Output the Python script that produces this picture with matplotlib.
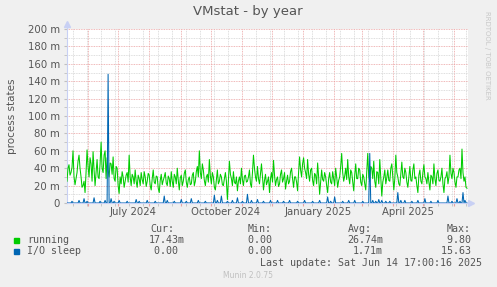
import matplotlib
matplotlib.use("Agg")
import matplotlib.pyplot as plt
import matplotlib.dates as mdates
import matplotlib.transforms as mtransforms
import numpy as np
import pandas as pd
from datetime import datetime, timedelta

# --- data (values in milli-processes) ---
start = datetime(2024, 5, 10, 17, 0)
end = datetime(2025, 6, 14, 17, 0)

# running, one value per day
running = [
    25, 40, 44, 32, 35, 41, 60, 30, 21, 28, 35, 48, 55, 40, 30, 18, 20, 25, 12, 35,
    61, 42, 30, 52, 45, 25, 59, 38, 20, 35, 50, 30, 28, 45, 70, 40, 35, 55, 60, 28,
    52, 38, 30, 46, 45, 33, 53, 28, 25, 42, 40, 20, 11, 30, 22, 36, 30, 18, 25, 32,
    35, 24, 55, 30, 20, 33, 30, 22, 38, 25, 18, 32, 28, 20, 35, 27, 22, 36, 30, 19,
    25, 34, 32, 20, 15, 28, 38, 24, 22, 31, 30, 17, 12, 26, 33, 21, 26, 30, 35, 23,
    20, 31, 28, 19, 36, 25, 18, 33, 30, 22, 40, 26, 15, 29, 32, 20, 25, 34, 38, 24,
    18, 27, 30, 21, 22, 32, 35, 20, 25, 36, 42, 30, 60, 35, 28, 45, 38, 26, 20, 30,
    33, 24, 50, 31, 22, 35, 30, 18, 15, 27, 38, 22, 25, 33, 30, 21, 20, 28, 35, 25,
    4, 26, 48, 33, 28, 20, 36, 24, 22, 30, 14, 25, 30, 22, 40, 27, 20, 31, 32, 24,
    25, 30, 38, 22, 18, 35, 55, 40, 30, 25, 42, 28, 22, 34, 45, 30, 15, 26, 33, 21,
    25, 30, 12, 28, 35, 24, 49, 32, 20, 27, 30, 19, 22, 33, 38, 24, 28, 35, 16, 25,
    32, 22, 25, 36, 40, 28, 18, 30, 30, 24, 14, 35, 53, 38, 30, 45, 52, 40, 35, 28,
    50, 33, 25, 38, 40, 26, 20, 34, 32, 22, 46, 30, 10, 24, 38, 27, 25, 35, 30, 20,
    12, 28, 35, 24, 22, 36, 28, 20, 40, 30, 18, 26, 30, 42, 57, 35, 25, 31, 40, 27,
    50, 30, 22, 38, 35, 25, 14, 32, 45, 28, 28, 40, 38, 24, 20, 33, 30, 22, 15, 35,
    57, 30, 25, 42, 40, 28, 48, 25, 18, 36, 35, 22, 50, 30, 8, 24, 30, 38, 22, 29,
    38, 26, 25, 40, 45, 30, 15, 28, 55, 35, 30, 22, 20, 34, 47, 30, 28, 40, 35, 24,
    18, 30, 42, 26, 25, 38, 45, 28, 30, 20, 12, 32, 38, 25, 22, 35, 44, 30, 28, 22,
    35, 24, 15, 32, 30, 22, 45, 28, 20, 34, 38, 26, 25, 30, 40, 22, 12, 28, 30, 36,
    22, 30, 55, 34, 28, 40, 35, 24, 18, 30, 30, 38, 40, 28, 62, 35, 25, 30, 18, 17,
]

# I/O sleep: mostly zero, nonzero days listed here
io_days = [5, 12, 17, 20, 27, 33, 38, 41, 44, 47, 52, 60, 69, 72, 80, 88, 97, 100,
           107, 114, 119, 124, 131, 138, 147, 150, 154, 160, 165, 170, 175, 180,
           184, 190, 196, 203, 210, 216, 222, 230, 237, 245, 252, 260, 263, 267,
           275, 281, 287, 295, 302, 305, 308, 311, 314, 318, 322, 330, 333, 337,
           344, 350, 357, 363, 370, 380, 384, 389, 392, 395, 397]
io_vals = [2, 3, 5, 2, 6, 2, 3, 148, 5, 2, 3, 2, 4, 2, 3, 2, 8, 3,
           2, 4, 2, 5, 3, 2, 9, 3, 8, 2, 3, 6, 2, 10,
           3, 4, 2, 3, 3, 2, 3, 2, 3, 2, 3, 7, 2, 7,
           2, 3, 3, 2, 57, 3, 2, 4, 3, 2, 2, 12, 3, 3,
           2, 3, 5, 2, 3, 8, 2, 5, 2, 12, 3]

legend_rows = [
    ("running", "#00CC00", "17.43m", "0.00", "26.74m", "9.80"),
    ("I/O sleep", "#0066B3", "0.00", "0.00", "1.71m", "15.63"),
]
x_labels = [(datetime(2024, 7, 16), "July 2024"), (datetime(2024, 10, 16), "October 2024"),
            (datetime(2025, 1, 16), "January 2025"), (datetime(2025, 4, 16), "April 2025")]

run_dates = [start + timedelta(days=i) for i in range(len(running))]
io = np.zeros(400)
io[io_days] = io_vals
io_dates = [start + timedelta(days=i) for i in range(400)]

# --- figure ---
W, H = 497, 287
fig = plt.figure(figsize=(W / 100, H / 100), dpi=100, facecolor="#F0F0F0")
ax = fig.add_axes([67 / W, 84 / H, 401 / W, 174 / H], facecolor="white")

txt = "#555555"
ax.plot(run_dates, running, color="#00CC00", lw=0.75, zorder=3)
ax.plot(io_dates, io, color="#0066B3", lw=0.75, zorder=4)

ax.set_xlim(start, end)
ax.set_ylim(0, 200)

ax.xaxis.set_major_locator(mdates.MonthLocator())
ax.xaxis.set_minor_locator(matplotlib.ticker.FixedLocator(
    mdates.date2num(pd.date_range("2024-05-17", "2025-06-14", freq="14D").to_pydatetime())))
ax.xaxis.set_major_formatter(matplotlib.ticker.NullFormatter())
ax.yaxis.set_major_locator(matplotlib.ticker.MultipleLocator(20))
ax.yaxis.set_minor_locator(matplotlib.ticker.MultipleLocator(10))
ax.yaxis.set_major_formatter(matplotlib.ticker.FuncFormatter(
    lambda v, p: "0" if v == 0 else "%d m" % v))

ax.grid(which="minor", color="#d4d4d4", linestyle=(0, (1, 1)), lw=0.6, zorder=1)
ax.grid(which="major", color="#eaa0a0", linestyle=(0, (1, 1)), lw=0.6, zorder=2)

ax.tick_params(axis="y", which="both", length=2, color="#c0c0c0", labelsize=7.3,
               labelcolor=txt, pad=3)
ax.tick_params(axis="x", which="major", length=2, color="#eaa0a0", labelbottom=False)
ax.tick_params(axis="x", which="minor", length=2, color="#c0c0c0")

for s in ["top", "right"]:
    ax.spines[s].set_visible(False)
for s in ["left", "bottom"]:
    ax.spines[s].set_color("#c8d0f4")
    ax.spines[s].set_linewidth(0.8)

# axis arrows
ax.plot([0], [1.03], marker="^", color="#c8d0f4", ms=4, transform=ax.transAxes, clip_on=False)
ax.plot([0, 0], [1.0, 1.03], color="#c8d0f4", lw=0.8, transform=ax.transAxes, clip_on=False)
ax.plot([1.008], [0], marker=">", color="#c8d0f4", ms=4, transform=ax.transAxes, clip_on=False)

trans = mtransforms.blended_transform_factory(ax.transData, ax.transAxes)
for d, lab in x_labels:
    ax.text(d, -0.05, lab, transform=trans, ha="center", va="center", fontsize=7.3, color=txt)

fig.text(248 / W, 1 - 12 / H, "VMstat - by year", ha="center", va="center", fontsize=9.5, color=txt)
fig.text(12 / W, 1 - 116 / H, "process states", rotation=90, ha="center", va="center",
         fontsize=7.5, color=txt)
fig.text(487 / W, 1 - 55 / H, "RRDTOOL / TOBI OETIKER", rotation=270, ha="center",
         va="center", fontsize=5, color="#c8c8c8")

mono = "DejaVu Sans Mono"
fs = 7.2
def ftext(x, y, s, **kw):
    fig.text(x / W, 1 - y / H, s, family=mono, fontsize=fs, color=txt, va="center", **kw)

for x, h in zip([150, 248, 348, 447], ["Cur:", "Min:", "Avg:", "Max:"]):
    ftext(x, 228.5, h)

col_right = [184.5, 278, 383, 477]
for k, (name, col, cur, mn, avg, mx) in enumerate(legend_rows):
    y = 240 + k * 11.5
    fig.patches.append(plt.Rectangle((14 / W, 1 - (y + 2.5) / H), 5 / W, 5 / H,
                                     transform=fig.transFigure, color=col, figure=fig))
    ftext(27, y, name)
    for xr, v in zip(col_right, [cur, mn, avg, mx]):
        s = v if v.endswith("m") else v + " "
        ftext(xr, y, s, ha="right")

ftext(482.5, 263.5, "Last update: Sat Jun 14 17:00:16 2025", ha="right")
fig.text(248 / W, 1 - 276 / H, "Munin 2.0.75", ha="center", va="center", fontsize=5.5,
         color="#c0c0c0")

fig.savefig("out.png", dpi=100, facecolor=fig.get_facecolor())
